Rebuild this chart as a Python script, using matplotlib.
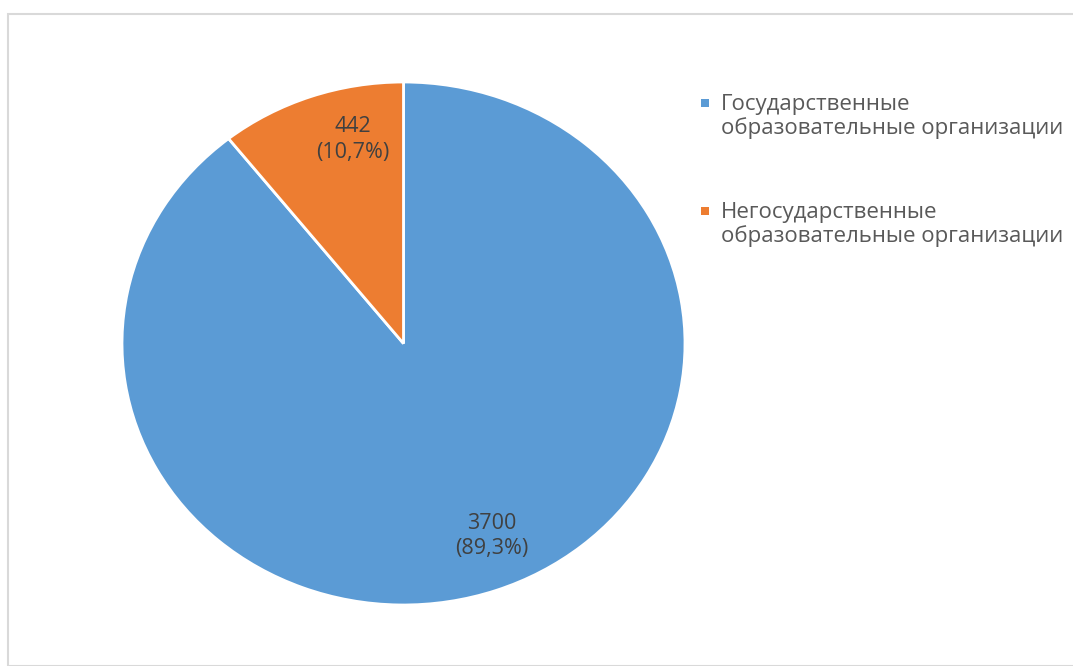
import matplotlib.pyplot as plt
from matplotlib.patches import Rectangle
import numpy as np

categories = ["Государственные\nобразовательные организации",
              "Негосударственные\nобразовательные организации"]
values = [3700, 442]
colors = ["#5B9BD5", "#ED7D31"]
label_angles = [-67, 103]  # где Excel поставил подписи

plt.rcParams['font.family'] = ['Open Sans', 'DejaVu Sans']

W, H = 1073, 666
fig = plt.figure(figsize=(W / 100, H / 100), dpi=100)

# рамка области диаграммы
fig.patches.append(Rectangle((8 / W, 0), 1.2, 1 - 14 / H, transform=fig.transFigure,
                             fill=False, edgecolor="#d9d9d9", linewidth=1.5))

# картинка немного растянута по горизонтали, поэтому круг -> эллипс
ax = fig.add_axes([122 / W, 61 / H, 563 / W, 523 / H])
wedges, _ = ax.pie(values, colors=colors, startangle=90, counterclock=False,
                   wedgeprops=dict(edgecolor="white", linewidth=2))
ax.set_xlim(-1, 1)
ax.set_ylim(-1, 1)
ax.set_aspect("auto")
ax.axis("off")

total = sum(values)
for v, a in zip(values, label_angles):
    r = 0.8
    x = r * np.cos(np.radians(a))
    y = r * np.sin(np.radians(a))
    pct = f"{v / total * 100:.1f}".replace(".", ",")
    ax.text(x, y, f"{v}\n({pct}%)", ha="center", va="center",
            fontsize=15.5, color="#404040", linespacing=1.3)

# легенда вручную: маркер выровнен по первой строке
leg_y = [103, 211]
for cat, c, y in zip(categories, colors, leg_y):
    fig.patches.append(Rectangle((701 / W, 1 - (y + 4) / H), 8 / W, 8 / H,
                                 transform=fig.transFigure, facecolor=c, edgecolor="none"))
    fig.text(721 / W, 1 - (y - 9) / H, cat, ha="left", va="top", fontsize=16,
             color="#595959", linespacing=1.15)

fig.savefig("out.png", dpi=100)
